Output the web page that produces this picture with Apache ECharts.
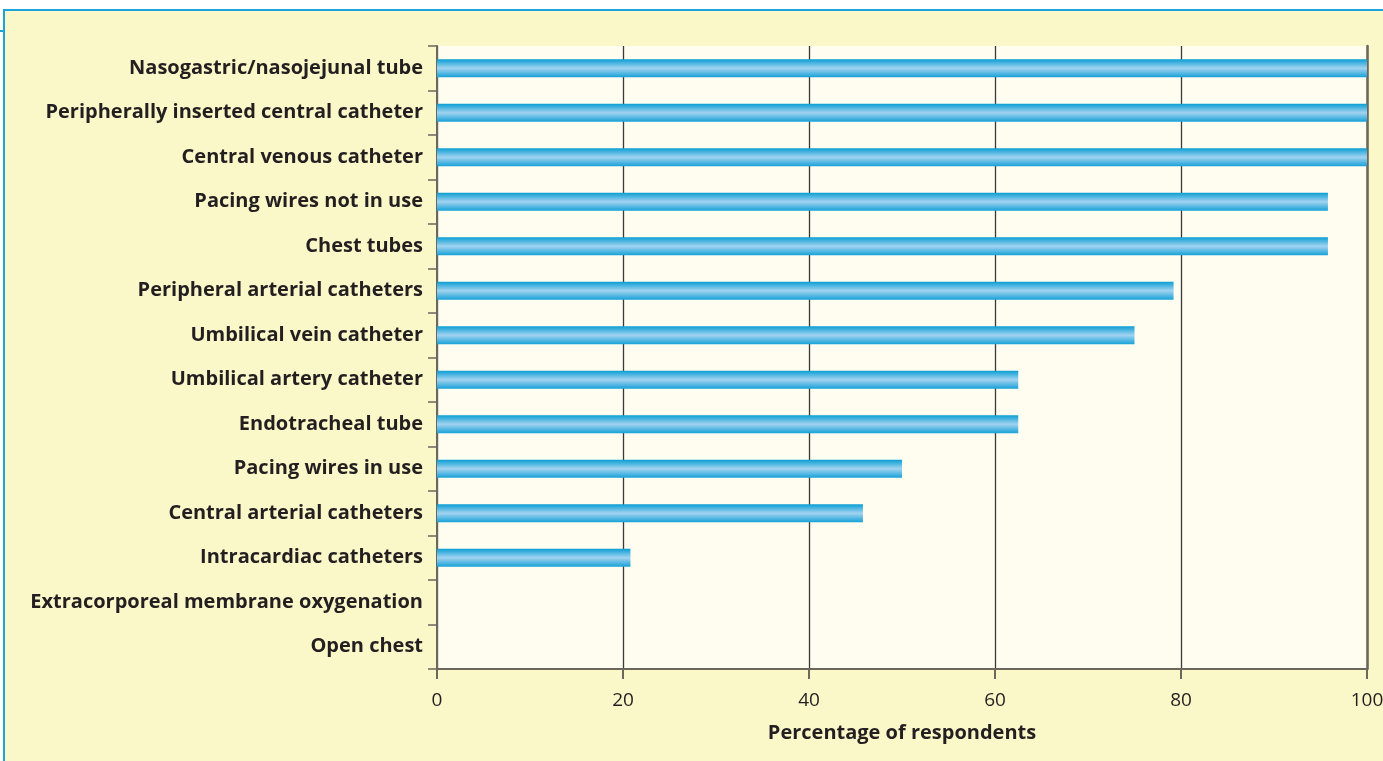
<!DOCTYPE html>
<html>
<head>
<meta charset="utf-8">
<script src="https://cdn.jsdelivr.net/npm/echarts@6/dist/echarts.min.js"></script>
<style>
html,body{margin:0;padding:0;background:#ffffff;overflow:hidden;}
#chart{width:1383px;height:761px;}
</style>
</head>
<body>
<div id="chart"></div>
<script>
const categories = [
  'Nasogastric/nasojejunal tube',
  'Peripherally inserted central catheter',
  'Central venous catheter',
  'Pacing wires not in use',
  'Chest tubes',
  'Peripheral arterial catheters',
  'Umbilical vein catheter',
  'Umbilical artery catheter',
  'Endotracheal tube',
  'Pacing wires in use',
  'Central arterial catheters',
  'Intracardiac catheters',
  'Extracorporeal membrane oxygenation',
  'Open chest'
];
const percentages = [100, 100, 100, 95.8, 95.8, 79.2, 75, 62.5, 62.5, 50, 45.8, 20.8, 0, 0];
const xTicks = [0, 20, 40, 60, 80, 100];
const xAxisTitle = 'Percentage of respondents';

const chart = echarts.init(document.getElementById('chart'));
const fontFam = '"Open Sans", "Liberation Sans", Arial, sans-serif';
const txt = '#231f20';
const axisGrey = '#6b675c';

chart.setOption({
  animation: false,
  backgroundColor: '#ffffff',
  graphic: [
    {type:'rect', z:-10, shape:{x:4, y:10, width:1379, height:751}, style:{fill:'#faf7c9'}},
    {type:'line', z:-9, shape:{x1:3, y1:10, x2:1383, y2:10}, style:{stroke:'#1ca4da', lineWidth:2}},
    {type:'line', z:-9, shape:{x1:4, y1:10, x2:4, y2:761}, style:{stroke:'#1ca4da', lineWidth:2}},
    {type:'line', z:-9, shape:{x1:0, y1:31, x2:4, y2:31}, style:{stroke:'#1ca4da', lineWidth:2}}
  ],
  grid: {
    left: 437, right: 16, top: 46, bottom: 92,
    outerBoundsMode: 'none', containLabel: false,
    show: true, backgroundColor: '#fffdf0', borderWidth: 0
  },
  xAxis: {
    type: 'value', min: 0, max: 100, interval: 20,
    name: xAxisTitle, nameLocation: 'middle', nameGap: 54,
    nameTextStyle: {fontFamily: fontFam, fontWeight: 'bold', fontSize: 20, color: txt},
    axisLine: {show: true, lineStyle: {color: axisGrey, width: 2}},
    axisTick: {show: true, length: 10, lineStyle: {color: axisGrey, width: 2}},
    axisLabel: {
      fontFamily: fontFam, fontSize: 19, color: txt, margin: 22,
      formatter: v => xTicks.indexOf(v) >= 0 ? String(v) : ''
    },
    splitLine: {show: true, lineStyle: {color: '#3a3a3a', width: 1.3}}
  },
  yAxis: [
    {
      type: 'category', data: categories, inverse: true,
      axisLine: {show: true, lineStyle: {color: axisGrey, width: 2}},
      axisTick: {show: true, length: 9, lineStyle: {color: axisGrey, width: 1.5}},
      axisLabel: {fontFamily: fontFam, fontWeight: 'bold', fontSize: 20, color: txt, margin: 14},
      splitLine: {show: false}
    },
    {
      type: 'category', data: categories, inverse: true, position: 'right',
      axisLine: {show: true, lineStyle: {color: axisGrey, width: 2.5}},
      axisTick: {show: false}, axisLabel: {show: false}, splitLine: {show: false}
    }
  ],
  series: [{
    type: 'bar',
    data: percentages,
    barWidth: 18,
    itemStyle: {
      color: new echarts.graphic.LinearGradient(0, 0, 0, 1, [
        {offset: 0, color: '#0a9ed4'},
        {offset: 0.5, color: '#a2d3f0'},
        {offset: 1, color: '#16a1d8'}
      ])
    }
  }]
});
</script>
</body>
</html>
